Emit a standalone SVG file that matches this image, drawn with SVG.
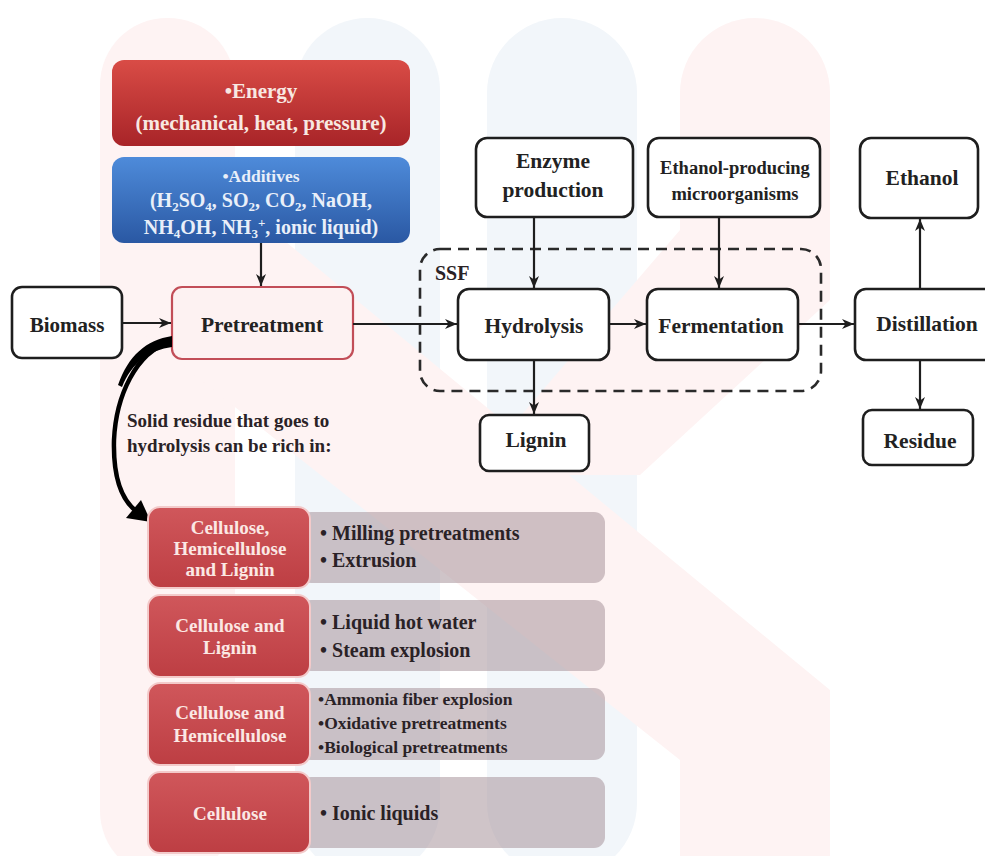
<svg xmlns="http://www.w3.org/2000/svg" width="985" height="856" viewBox="0 0 985 856">
  <defs>
    <linearGradient id="gradEnergy" x1="0" y1="0" x2="0" y2="1">
      <stop offset="0" stop-color="#d94c46"/>
      <stop offset="1" stop-color="#a82428"/>
    </linearGradient>
    <linearGradient id="gradAdd" x1="0" y1="0" x2="0" y2="1">
      <stop offset="0" stop-color="#4e8bda"/>
      <stop offset="1" stop-color="#2a58a3"/>
    </linearGradient>
    <linearGradient id="gradRed" x1="0" y1="0" x2="0" y2="1">
      <stop offset="0" stop-color="#d0575b"/>
      <stop offset="1" stop-color="#bd3e43"/>
    </linearGradient>
    <marker id="arrow" markerUnits="userSpaceOnUse" markerWidth="13" markerHeight="11" refX="12" refY="5.5" orient="auto">
      <path d="M0,0.5 L12,5.5 L0,10.5 L3.5,5.5 z" fill="#1e1e1e"/>
    </marker>
    <style>
      text { font-family: 'Liberation Serif', 'DejaVu Serif', 'Times New Roman', serif; font-weight: bold; }
      .box { fill: #ffffff; stroke: #1e1e1e; stroke-width: 2.6; }
      .lbl { fill: #222; text-anchor: middle; }
      .wtxt { text-anchor: middle; }
      .ltxt { fill: #2a2226; }
      .edge { fill: none; stroke: #1e1e1e; stroke-width: 2.2; marker-end: url(#arrow); }
      .redcell { fill: url(#gradRed); stroke: #f3caca; stroke-width: 2; }
      .greycell { fill: #a8949a; fill-opacity: 0.55; }
      .pinkmark { fill: #fef3f3; }
      .bluemark { fill: #f2f6fa; }
    </style>
  </defs>

  <rect width="985" height="856" fill="#ffffff"/>

  <!-- faint background emblem -->
  <g id="emblem">
    <rect class="bluemark" x="295" y="18" width="145" height="860" rx="72"/>
    <rect class="bluemark" x="487" y="18" width="150" height="860" rx="75"/>
    <rect class="pinkmark" x="100" y="18" width="135" height="860" rx="67"/>
    <rect class="pinkmark" x="680" y="18" width="150" height="320" rx="75"/>
    <polygon class="pinkmark" points="100,200 235,200 830,690 830,856 680,856 680,760 100,300"/>
    <polygon class="pinkmark" points="680,230 830,230 830,300 640,475 470,475"/>
  </g>

  <!-- inputs to pretreatment -->
  <g id="energy">
    <rect x="112" y="60" width="298" height="86" rx="12" fill="url(#gradEnergy)"/>
    <text class="wtxt" fill="#f8e8e2" font-size="21" x="261" y="98">•Energy</text>
    <text class="wtxt" fill="#f8e8e2" font-size="21" x="261" y="130">(mechanical, heat, pressure)</text>
  </g>
  <g id="additives">
    <rect x="112" y="157" width="298" height="86" rx="12" fill="url(#gradAdd)"/>
    <text class="wtxt" fill="#e9eff9" font-size="17.5" x="261" y="182">•Additives</text>
    <text class="wtxt" fill="#e9eff9" font-size="20" x="261" y="207">(H<tspan font-size="13" dy="4">2</tspan><tspan dy="-4">SO</tspan><tspan font-size="13" dy="4">4</tspan><tspan dy="-4">, SO</tspan><tspan font-size="13" dy="4">2</tspan><tspan dy="-4">, CO</tspan><tspan font-size="13" dy="4">2</tspan><tspan dy="-4">, NaOH,</tspan></text>
    <text class="wtxt" fill="#e9eff9" font-size="20" x="261" y="234">NH<tspan font-size="13" dy="4">4</tspan><tspan dy="-4">OH, NH</tspan><tspan font-size="13" dy="4">3</tspan><tspan font-size="13" dy="-11">+</tspan><tspan dy="7">, ionic liquid)</tspan></text>
  </g>

  <!-- main process chain -->
  <g id="biomass">
    <rect class="box" x="12" y="287" width="110" height="71" rx="10"/>
    <text class="lbl" font-size="21" x="67" y="332">Biomass</text>
  </g>
  <g id="pretreatment">
    <rect x="172" y="287" width="181" height="72" rx="10" fill="#fdf2f2" stroke="#c24e58" stroke-width="2.2"/>
    <text class="lbl" font-size="21.5" x="262" y="332">Pretreatment</text>
  </g>
  <g id="ssf">
    <rect x="420" y="249" width="401" height="142" rx="20" fill="none" stroke="#2a2a2a" stroke-width="2.6" stroke-dasharray="11,7"/>
    <text class="ltxt" font-size="20" x="435" y="280" fill="#333">SSF</text>
  </g>
  <g id="enzyme">
    <rect class="box" x="476" y="138" width="157" height="79" rx="11"/>
    <text class="lbl" font-size="21.5" x="553" y="168">Enzyme</text>
    <text class="lbl" font-size="21.5" x="553" y="197">production</text>
  </g>
  <g id="microorganisms">
    <rect class="box" x="648" y="138" width="172" height="79" rx="11"/>
    <text class="lbl" font-size="18.5" x="735" y="174">Ethanol-producing</text>
    <text class="lbl" font-size="18.5" x="735" y="200">microorganisms</text>
  </g>
  <g id="hydrolysis">
    <rect class="box" x="458" y="289" width="151" height="71" rx="11"/>
    <text class="lbl" font-size="21.5" x="534" y="333">Hydrolysis</text>
  </g>
  <g id="fermentation">
    <rect class="box" x="647" y="289" width="151" height="71" rx="11"/>
    <text class="lbl" font-size="21.5" x="721" y="333">Fermentation</text>
  </g>
  <g id="lignin">
    <rect class="box" x="480" y="415" width="109" height="56" rx="9"/>
    <text class="lbl" font-size="21.5" x="536" y="447">Lignin</text>
  </g>
  <g id="distillation">
    <rect class="box" x="855" y="289" width="140" height="71" rx="11"/>
    <text class="lbl" font-size="21.5" x="927" y="331">Distillation</text>
  </g>
  <g id="ethanol">
    <rect class="box" x="860" y="138" width="118" height="80" rx="11"/>
    <text class="lbl" font-size="21.5" x="922" y="185">Ethanol</text>
  </g>
  <g id="residue">
    <rect class="box" x="863" y="410" width="110" height="55" rx="9"/>
    <text class="lbl" font-size="21.5" x="920" y="448">Residue</text>
  </g>

  <!-- connectors -->
  <g id="connectors">
    <line class="edge" x1="261" y1="243" x2="261" y2="286"/>
    <line class="edge" x1="122" y1="323" x2="171" y2="323"/>
    <line class="edge" x1="353" y1="324" x2="457" y2="324"/>
    <line class="edge" x1="609" y1="324" x2="646" y2="324"/>
    <line class="edge" x1="798" y1="324" x2="854" y2="324"/>
    <line class="edge" x1="534" y1="217" x2="534" y2="288"/>
    <line class="edge" x1="719" y1="217" x2="719" y2="288"/>
    <line class="edge" x1="534" y1="360" x2="534" y2="414"/>
    <line class="edge" x1="920" y1="289" x2="920" y2="219"/>
    <line class="edge" x1="920" y1="360" x2="920" y2="409"/>
    <!-- curved flow from pretreatment to the residue composition table -->
    <path d="M172,336 C146,340 128,356 118,385 L122,387 C132,362 150,350 172,347 Z" fill="#000"/>
    <path d="M170,342 C136,352 116,396 114,440 C113,478 122,500 136,511" fill="none" stroke="#000" stroke-width="4.5"/>
    <polygon points="151,522 126,518 141,500" fill="#000"/>
  </g>

  <g id="note">
    <text class="ltxt" font-size="19" x="127" y="427">Solid residue that goes to</text>
    <text class="ltxt" font-size="19" x="127" y="452">hydrolysis can be rich in:</text>
  </g>

  <!-- composition table -->
  <g id="row1">
    <rect class="greycell" x="300" y="512" width="305" height="71" rx="11"/>
    <rect class="redcell" x="148" y="507" width="162" height="81" rx="12"/>
    <text class="wtxt" fill="#fbe8e4" font-size="19" x="230" y="534">Cellulose,</text>
    <text class="wtxt" fill="#fbe8e4" font-size="19" x="230" y="555">Hemicellulose</text>
    <text class="wtxt" fill="#fbe8e4" font-size="19" x="230" y="576">and Lignin</text>
    <text class="ltxt" font-size="20" x="320" y="540">• Milling pretreatments</text>
    <text class="ltxt" font-size="20" x="320" y="567">• Extrusion</text>
  </g>
  <g id="row2">
    <rect class="greycell" x="300" y="600" width="305" height="71" rx="11"/>
    <rect class="redcell" x="148" y="595" width="162" height="82" rx="12"/>
    <text class="wtxt" fill="#fbe8e4" font-size="19" x="230" y="632">Cellulose and</text>
    <text class="wtxt" fill="#fbe8e4" font-size="19" x="230" y="654">Lignin</text>
    <text class="ltxt" font-size="20" x="320" y="629">• Liquid hot water</text>
    <text class="ltxt" font-size="20" x="320" y="657">• Steam explosion</text>
  </g>
  <g id="row3">
    <rect class="greycell" x="300" y="688" width="305" height="72" rx="11"/>
    <rect class="redcell" x="148" y="683" width="162" height="82" rx="12"/>
    <text class="wtxt" fill="#fbe8e4" font-size="19" x="230" y="719">Cellulose and</text>
    <text class="wtxt" fill="#fbe8e4" font-size="19" x="230" y="742">Hemicellulose</text>
    <text class="ltxt" font-size="17.5" x="318" y="705">•Ammonia fiber explosion</text>
    <text class="ltxt" font-size="17.5" x="318" y="729">•Oxidative pretreatments</text>
    <text class="ltxt" font-size="17.5" x="318" y="753">•Biological pretreatments</text>
  </g>
  <g id="row4">
    <rect class="greycell" x="300" y="777" width="305" height="71" rx="11"/>
    <rect class="redcell" x="148" y="772" width="162" height="81" rx="12"/>
    <text class="wtxt" fill="#fbe8e4" font-size="19" x="230" y="820">Cellulose</text>
    <text class="ltxt" font-size="20" x="320" y="820">• Ionic liquids</text>
  </g>
</svg>
